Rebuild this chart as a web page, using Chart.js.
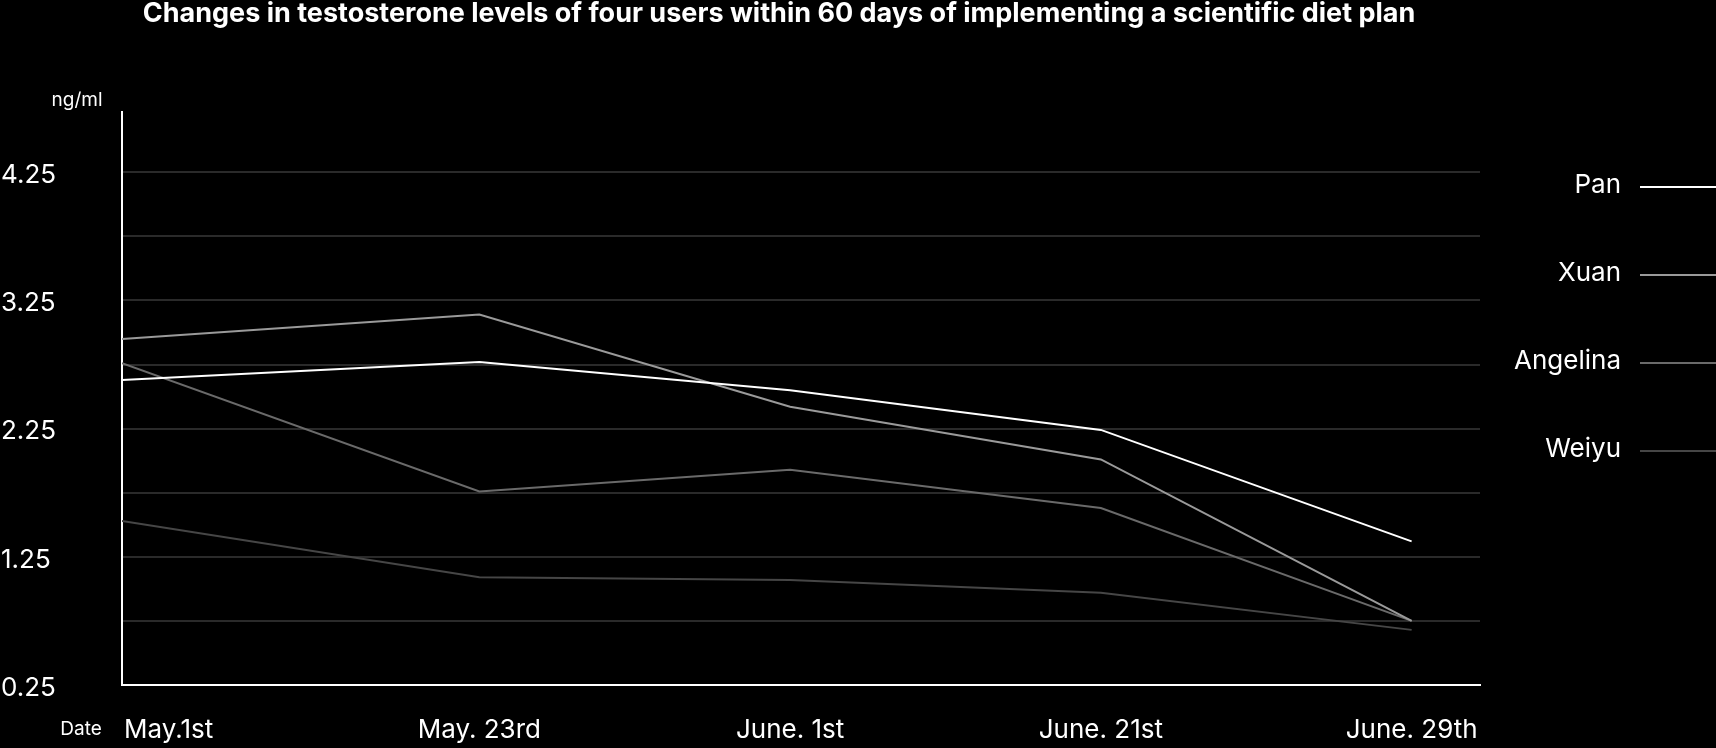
<!DOCTYPE html>
<html>
<head>
<meta charset="utf-8">
<script src="https://cdn.jsdelivr.net/npm/chart.js@4.4.1/dist/chart.umd.min.js"></script>
<style>
  html, body { margin: 0; padding: 0; background: #000; }
  #wrap { width: 1716px; height: 748px; }
</style>
</head>
<body>
<div id="wrap"><canvas id="chart"></canvas></div>
<script>
// chart data
const chartTitle = 'Changes in testosterone levels of four users within 60 days of implementing a scientific diet plan';
const yUnit = 'ng/ml';
const xName = 'Date';
const dates = ['May.1st', 'May. 23rd', 'June. 1st', 'June. 21st', 'June. 29th'];
const users = ['Pan', 'Xuan', 'Angelina', 'Weiyu'];
const pan = [2.63, 2.77, 2.55, 2.24, 1.37];
const xuan = [2.95, 3.14, 2.42, 2.01, 0.75];
const angelina = [2.76, 1.76, 1.93, 1.63, 0.75];
const weiyu = [1.53, 1.09, 1.07, 0.97, 0.68];
const yGrid = [0.25, 0.75, 1.25, 1.75, 2.25, 2.75, 3.25, 3.75, 4.25];
const yTickLabels = ['0.25', '1.25', '2.25', '3.25', '4.25'];

const series = [pan, xuan, angelina, weiyu];
const lineColors = ['#ffffff', '#9a9a9a', '#6a6a6a', '#464646'];

// the x axis starts a little before the first date; the first reading sits on the axis
const X_MIN = -0.15;
const X_MAX = 4.22;

const FONT = 'Inter';

// title, axis names and the legend on the right
const decorations = {
  id: 'decorations',
  afterDraw(chart) {
    const ctx = chart.ctx;
    ctx.save();
    ctx.fillStyle = '#ffffff';
    ctx.textBaseline = 'middle';
    ctx.textAlign = 'center';
    ctx.font = 'bold 27px ' + FONT;
    ctx.fillText(chartTitle, 779, 14);

    ctx.font = '19px ' + FONT;
    ctx.fillText(yUnit, 77, 100);
    ctx.fillText(xName, 81, 729);

    chart.data.datasets.forEach((ds, i) => {
      const y = 186 + i * 88;
      ctx.textAlign = 'right';
      ctx.font = '26px ' + FONT;
      ctx.fillStyle = '#ffffff';
      ctx.fillText(ds.label, 1621, y - 1);
      ctx.strokeStyle = ds.borderColor;
      ctx.lineWidth = 2;
      ctx.beginPath();
      ctx.moveTo(1640, y + 1);
      ctx.lineTo(1716, y + 1);
      ctx.stroke();
    });
    ctx.restore();
  }
};

const datasets = users.map((name, i) => ({
  label: name,
  data: series[i].map((v, j) => ({ x: j === 0 ? X_MIN : j, y: v })),
  borderColor: lineColors[i],
  borderWidth: 2,
  pointRadius: 0,
  tension: 0,
  fill: false
}));

new Chart(document.getElementById('chart'), {
  type: 'line',
  data: { datasets: datasets },
  plugins: [decorations],
  options: {
    responsive: true,
    maintainAspectRatio: false,
    animation: false,
    layout: { padding: { top: 112, right: 236, bottom: 0, left: 1 } },
    plugins: {
      legend: { display: false },
      title: { display: false },
      tooltip: { enabled: false }
    },
    scales: {
      x: {
        type: 'linear',
        min: X_MIN,
        max: X_MAX,
        afterBuildTicks: (axis) => { axis.ticks = dates.map((d, i) => ({ value: i })); },
        afterFit: (axis) => { axis.height = 63; },
        grid: { display: false, drawTicks: false },
        border: { color: '#ffffff', width: 2 },
        ticks: {
          color: '#ffffff',
          autoSkip: false,
          maxRotation: 0,
          padding: 30,
          font: { family: FONT, size: 26 },
          callback: (v) => dates[v]
        }
      },
      y: {
        min: 0.25,
        max: 4.72,
        afterBuildTicks: (axis) => { axis.ticks = yGrid.map(v => ({ value: v })); },
        afterFit: (axis) => { axis.width = 121; },
        grid: { color: '#2a2a2a', lineWidth: 2, drawTicks: false },
        border: { color: '#ffffff', width: 2 },
        ticks: {
          color: '#ffffff',
          crossAlign: 'far',
          labelOffset: 3,
          font: { family: FONT, size: 26 },
          callback: (v) => yTickLabels.includes(v.toFixed(2)) ? v.toFixed(2) : ''
        }
      }
    }
  }
});
</script>
</body>
</html>
